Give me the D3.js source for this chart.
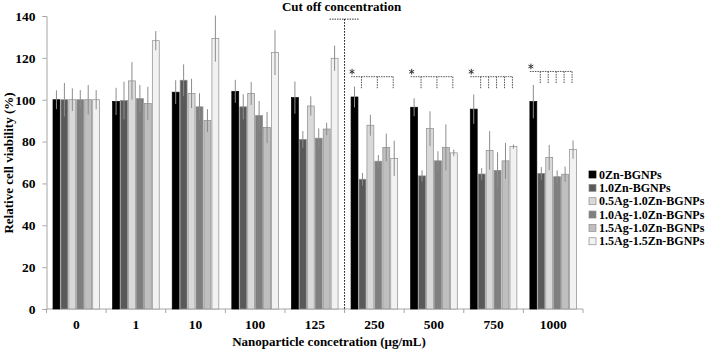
<!DOCTYPE html>
<html>
<head>
<meta charset="utf-8">
<script src="https://cdn.jsdelivr.net/npm/d3@7"></script>
<style>
body{margin:0;background:#fff;}
text{font-family:"Liberation Serif","Times New Roman",serif;font-weight:bold;fill:#000;}
</style>
</head>
<body>
<svg id="chart" width="708" height="351"></svg>
<script>
// data
var categories = ["0","1","10","100","125","250","500","750","1000"];
var seriesNames = ["0Zn-BGNPs","1.0Zn-BGNPs","0.5Ag-1.0Zn-BGNPs","1.0Ag-1.0Zn-BGNPs","1.5Ag-1.0Zn-BGNPs","1.5Ag-1.5Zn-BGNPs"];
var seriesColors = ["#000000","#595959","#d9d9d9","#7f7f7f","#bfbfbf","#f2f2f2"];
// one row per category, one value per series
var viability = [
	[100, 100, 100, 100, 100, 100],
	[99.2, 99.6, 109, 100.5, 98.2, 128.2],
	[103.6, 109.3, 103, 96.6, 90, 129.2],
	[104, 96.6, 103, 92.4, 86.7, 122.5],
	[101, 81, 97, 81.6, 86, 119.8],
	[101.3, 62, 87.8, 70.6, 77.2, 72],
	[96.4, 63.6, 86.2, 70.8, 77.2, 74.6],
	[95.5, 64.5, 75.8, 66.2, 70.8, 77.6],
	[99.1, 64.8, 72.4, 63.2, 64.4, 76.2]
];
var errors = [
	[4.5, 8, 5.4, 4.6, 7, 4.6],
	[6.5, 9, 9, 6.5, 8, 4.6],
	[5.7, 7.6, 7, 6.5, 5.5, 11],
	[5.5, 6, 5.5, 7, 7.5, 10.7],
	[7.7, 4, 4.6, 4.7, 3, 6],
	[5, 3, 5, 3, 6.6, 8.4],
	[4.3, 2.7, 8.3, 4.6, 11, 1.6],
	[7, 2.8, 9.2, 8.7, 8.6, 1],
	[8, 3, 6, 3, 3.6, 4.4]
];
var yTicks = [0,20,40,60,80,100,120,140];
// significance brackets: category, compared series indices, bracket level
var sigCats = ["250","500","750","1000"];
var sigTargets = [[1,3,5],[1,3,5],[1,2,3,4,5],[1,2,3,4,5]];
var sigLevel = [111, 111, 111, 113.5];
var cutoffAfter = "125";

var svg = d3.select("#chart");
var x = d3.scaleBand().domain(categories).range([46.5,583]).paddingInner(0.218).paddingOuter(0.109);
var xs = d3.scaleBand().domain(d3.range(seriesNames.length)).range([0,x.bandwidth()]).paddingInner(0.13);
var y = d3.scaleLinear().domain([0,140]).range([309,16]);
var half = (x.step()-x.bandwidth())/2;

// axes
var yAxis = d3.axisLeft(y).tickValues(yTicks).tickSize(4).tickPadding(7);
var gy = svg.append("g").attr("transform","translate(46.5,0)").call(yAxis);
gy.select(".domain").attr("stroke","#a6a6a6");
gy.selectAll(".tick line").attr("stroke","#a6a6a6");
gy.selectAll(".tick text").style("font-size","13.5px");

var gx = svg.append("g").attr("transform","translate(0,309)");
gx.append("line").attr("x1",46.5).attr("x2",583).attr("stroke","#a6a6a6");
gx.selectAll(".xt").data(categories.concat(["end"])).enter().append("line")
	.attr("x1",function(d,i){return i<categories.length ? x(d)-half : x(categories[i-1])+x.bandwidth()+half;})
	.attr("x2",function(d,i){return i<categories.length ? x(d)-half : x(categories[i-1])+x.bandwidth()+half;})
	.attr("y1",0).attr("y2",4).attr("stroke","#a6a6a6");
gx.selectAll(".xl").data(categories).enter().append("text")
	.attr("x",function(d){return x(d)+x.bandwidth()/2;})
	.attr("y",19.5).attr("text-anchor","middle").style("font-size","13.5px").text(function(d){return d;});

// bars
var groups = svg.selectAll(".grp").data(categories).enter().append("g")
	.attr("transform",function(d){return "translate("+x(d)+",0)";});
groups.each(function(c,ci){
	var g = d3.select(this);
	viability[ci].forEach(function(v,si){
		g.append("rect")
			.attr("x",xs(si)).attr("width",xs.bandwidth())
			.attr("y",y(v)).attr("height",y(0)-y(v))
			.attr("fill",seriesColors[si])
			.attr("stroke",si===0 ? "#000" : "#8c8c8c").attr("stroke-width",0.7);
	});
	errors[ci].forEach(function(e,si){
		var cx = xs(si)+xs.bandwidth()/2;
		g.append("line")
			.attr("x1",cx).attr("x2",cx)
			.attr("y1",y(viability[ci][si]+e)).attr("y2",y(viability[ci][si]-e))
			.attr("stroke","#8c8c8c").attr("stroke-width",1);
	});
});

// cut off line
var cutX = x(cutoffAfter)+x.bandwidth()+half;
svg.append("line").attr("x1",cutX).attr("x2",cutX).attr("y1",y(138.5)).attr("y2",y(0))
	.attr("stroke","#000").attr("stroke-width",1).attr("stroke-dasharray","1.5,1.5");
svg.append("line").attr("x1",cutX-15).attr("x2",cutX+15).attr("y1",y(138.5)).attr("y2",y(138.5))
	.attr("stroke","#000").attr("stroke-width",0.8).attr("stroke-dasharray","1.5,1");
svg.append("text").attr("x",cutX-3).attr("y",11).attr("text-anchor","middle")
	.style("font-size","13px").text("Cut off concentration");

// significance brackets
var star = d3.symbol().type(d3.symbolAsterisk).size(22);
sigCats.forEach(function(c,k){
	var base = x(c);
	var lvl = y(sigLevel[k]);
	var drop = y(sigLevel[k]-5.5);
	var last = sigTargets[k][sigTargets[k].length-1];
	var x0 = base+xs(0);
	var x1 = base+xs(last)+xs.bandwidth()/2-1;
	svg.append("path").attr("d",star).attr("transform","translate("+(x0+1)+","+(lvl-5)+")")
		.attr("fill","none").attr("stroke","#333").attr("stroke-width",1);
	svg.append("line").attr("x1",x0).attr("x2",x1).attr("y1",lvl).attr("y2",lvl)
		.attr("stroke","#555").attr("stroke-width",1).attr("stroke-dasharray","1.5,1");
	sigTargets[k].forEach(function(si){
		var cx = base+xs(si)+xs.bandwidth()/2-1;
		svg.append("line").attr("x1",cx).attr("x2",cx).attr("y1",lvl).attr("y2",drop)
			.attr("stroke","#555").attr("stroke-width",1).attr("stroke-dasharray","1.5,1");
	});
});

// axis titles
svg.append("text").attr("transform","translate(13,163)rotate(-90)").attr("text-anchor","middle")
	.style("font-size","13px").text("Relative cell viability (%)");
svg.append("text").attr("x",329).attr("y",346).attr("text-anchor","middle")
	.style("font-size","13px").text("Nanoparticle concetration (\u03bcg/mL)");

// legend
var leg = svg.selectAll(".leg").data(seriesNames).enter().append("g")
	.attr("transform",function(d,i){return "translate(589,"+(174.5+i*13.35)+")";});
leg.append("rect").attr("x",0).attr("y",-3.5).attr("width",7).attr("height",7)
	.attr("fill",function(d,i){return seriesColors[i];})
	.attr("stroke",function(d,i){return i===0 ? "#000" : "#8c8c8c";}).attr("stroke-width",0.7);
leg.append("text").attr("x",10).attr("y",4.2).style("font-size","12px").text(function(d){return d;});
</script>
</body>
</html>
